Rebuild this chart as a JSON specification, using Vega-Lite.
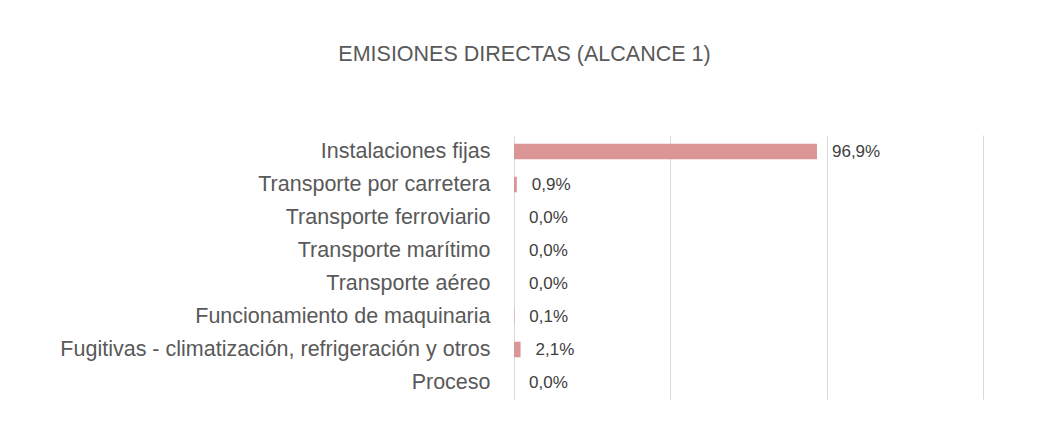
{
  "$schema": "https://vega.github.io/schema/vega-lite/v6.json",
  "autosize": {"type": "none"},
  "width": 469,
  "height": 264,
  "padding": {"left": 514, "top": 135, "right": 60, "bottom": 34},
  "background": "white",
  "config": {
    "locale": {"number": {"decimal": ",", "thousands": ".", "grouping": [3], "currency": ["", " €"]}},
    "view": {"stroke": null}
  },
  "title": {
    "text": "EMISIONES DIRECTAS (ALCANCE 1)",
    "font": "Liberation Sans",
    "fontSize": 21.5,
    "fontWeight": "normal",
    "color": "#595959",
    "anchor": "middle",
    "dx": -224,
    "offset": 70
  },
  "data": {
    "values": [
      {"categoria": "Instalaciones fijas", "valor": 0.969},
      {"categoria": "Transporte por carretera", "valor": 0.009},
      {"categoria": "Transporte ferroviario", "valor": 0.0},
      {"categoria": "Transporte marítimo", "valor": 0.0},
      {"categoria": "Transporte aéreo", "valor": 0.0},
      {"categoria": "Funcionamiento de maquinaria", "valor": 0.001},
      {"categoria": "Fugitivas - climatización, refrigeración y otros", "valor": 0.021},
      {"categoria": "Proceso", "valor": 0.0}
    ]
  },
  "encoding": {
    "y": {
      "field": "categoria",
      "type": "nominal",
      "sort": null,
      "title": null,
      "scale": {"paddingInner": 0.53, "paddingOuter": 0.265},
      "axis": {
        "ticks": false,
        "domain": false,
        "labelFont": "Liberation Sans",
        "labelFontSize": 21.5,
        "labelColor": "#595959",
        "labelPadding": 24,
        "labelLimit": 600
      }
    },
    "x": {
      "field": "valor",
      "type": "quantitative",
      "scale": {"domain": [0, 1.5], "nice": false},
      "title": null,
      "axis": {
        "values": [0, 0.5, 1, 1.5],
        "labels": false,
        "ticks": false,
        "domain": false,
        "grid": true,
        "gridColor": "#d9d9d9",
        "gridWidth": 1
      }
    }
  },
  "layer": [
    {"mark": {"type": "bar", "color": "#d99694"}},
    {
      "mark": {"type": "text", "align": "left", "dx": 15, "font": "Liberation Sans", "fontSize": 17, "color": "#404040"},
      "encoding": {"text": {"field": "valor", "type": "quantitative", "format": ".1%"}}
    }
  ]
}
